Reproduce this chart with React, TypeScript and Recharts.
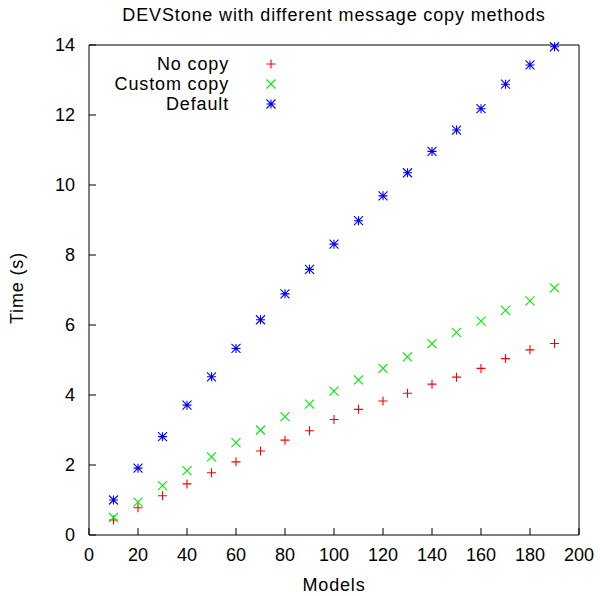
import React from 'react'
import { ScatterChart, Scatter, XAxis, YAxis } from 'recharts'

const MODELS = [10, 20, 30, 40, 50, 60, 70, 80, 90, 100, 110, 120, 130, 140, 150, 160, 170, 180, 190]
const NO_COPY = [0.43, 0.78, 1.12, 1.46, 1.78, 2.09, 2.4, 2.71, 2.98, 3.3, 3.59, 3.83, 4.05, 4.31, 4.51, 4.76, 5.04, 5.29, 5.47]
const CUSTOM_COPY = [0.5, 0.94, 1.41, 1.84, 2.23, 2.64, 3.0, 3.38, 3.74, 4.11, 4.43, 4.76, 5.09, 5.47, 5.79, 6.11, 6.42, 6.69, 7.06]
const DEFAULT_COPY = [1.0, 1.91, 2.81, 3.71, 4.52, 5.33, 6.15, 6.89, 7.59, 8.31, 8.98, 9.69, 10.35, 10.96, 11.57, 12.18, 12.88, 13.43, 13.95]
const X_TICKS = [0, 20, 40, 60, 80, 100, 120, 140, 160, 180, 200]
const Y_TICKS = [0, 2, 4, 6, 8, 10, 12, 14]

const FONT = '"Liberation Sans", Arial, sans-serif'
const R = 4.5

const toPoints = (vals: number[]) => MODELS.map((m, i) => ({ models: m, time: vals[i] }))

// gnuplot-like point types
const plusPath = (x: number, y: number) => `M${x - R},${y}H${x + R}M${x},${y - R}V${y + R}`
const crossPath = (x: number, y: number) => `M${x - R},${y - R}L${x + R},${y + R}M${x - R},${y + R}L${x + R},${y - R}`
const starPath = (x: number, y: number) => plusPath(x, y) + crossPath(x, y)

const SERIES = [
  { name: 'No copy', color: '#ff0000', path: plusPath, data: toPoints(NO_COPY) },
  { name: 'Custom copy', color: '#00ee00', path: crossPath, data: toPoints(CUSTOM_COPY) },
  { name: 'Default', color: '#0000ff', path: starPath, data: toPoints(DEFAULT_COPY) },
]

const labelStyle: React.CSSProperties = {
  position: 'absolute',
  fontFamily: FONT,
  fontSize: 18,
  lineHeight: '20px',
  letterSpacing: 0.85,
  color: '#000',
  whiteSpace: 'nowrap',
}

export default function App() {
  const tick = { fill: '#000', fontSize: 18, fontFamily: FONT }
  return (
    <div style={{ position: 'absolute', left: 0, top: 0, width: 600, height: 596, background: '#fff' }}>
      <ScatterChart width={600} height={596} margin={{ top: 0, right: 0, bottom: 0, left: 0 }}>
        <XAxis
          xAxisId="b"
          dataKey="models"
          type="number"
          domain={[0, 200]}
          ticks={X_TICKS}
          height={61}
          stroke="#000"
          tickSize={-7}
          tickMargin={20}
          tick={tick}
        />
        <XAxis
          xAxisId="t"
          orientation="top"
          type="number"
          domain={[0, 200]}
          ticks={X_TICKS}
          height={45}
          stroke="#000"
          tickSize={-7}
          tick={false}
        />
        <YAxis
          yAxisId="l"
          dataKey="time"
          type="number"
          domain={[0, 14]}
          ticks={Y_TICKS}
          width={89}
          stroke="#000"
          tickSize={-7}
          tickMargin={21}
          tick={tick}
        />
        <YAxis
          yAxisId="r"
          orientation="right"
          type="number"
          domain={[0, 14]}
          ticks={Y_TICKS}
          width={21}
          stroke="#000"
          tickSize={-7}
          tick={false}
        />
        {SERIES.map((s) => (
          <Scatter
            key={s.name}
            name={s.name}
            data={s.data}
            xAxisId="b"
            yAxisId="l"
            isAnimationActive={false}
            shape={(p: any) => <path d={s.path(p.cx, p.cy)} stroke={s.color} strokeWidth={1.1} fill="none" />}
          />
        ))}
      </ScatterChart>

      <div style={{ ...labelStyle, left: 89, top: 5, width: 490, textAlign: 'center' }}>
        DEVStone with different message copy methods
      </div>
      <div style={{ ...labelStyle, left: 89, top: 575, width: 490, textAlign: 'center' }}>Models</div>
      <div
        style={{
          ...labelStyle,
          left: 17 - 100,
          top: 288 - 10,
          width: 200,
          textAlign: 'center',
          transform: 'rotate(-90deg)',
        }}
      >
        Time (s)
      </div>

      {/* legend */}
      <div style={{ position: 'absolute', left: 89, top: 54 }}>
        {SERIES.map((s) => (
          <div key={s.name} style={{ display: 'flex', height: 20, alignItems: 'center' }}>
            <span style={{ ...labelStyle, position: 'static', width: 140, textAlign: 'right' }}>{s.name}</span>
            <svg width={60} height={20} style={{ marginLeft: 12 }}>
              <path d={s.path(30, 10)} stroke={s.color} strokeWidth={1.1} fill="none" />
            </svg>
          </div>
        ))}
      </div>
    </div>
  )
}
